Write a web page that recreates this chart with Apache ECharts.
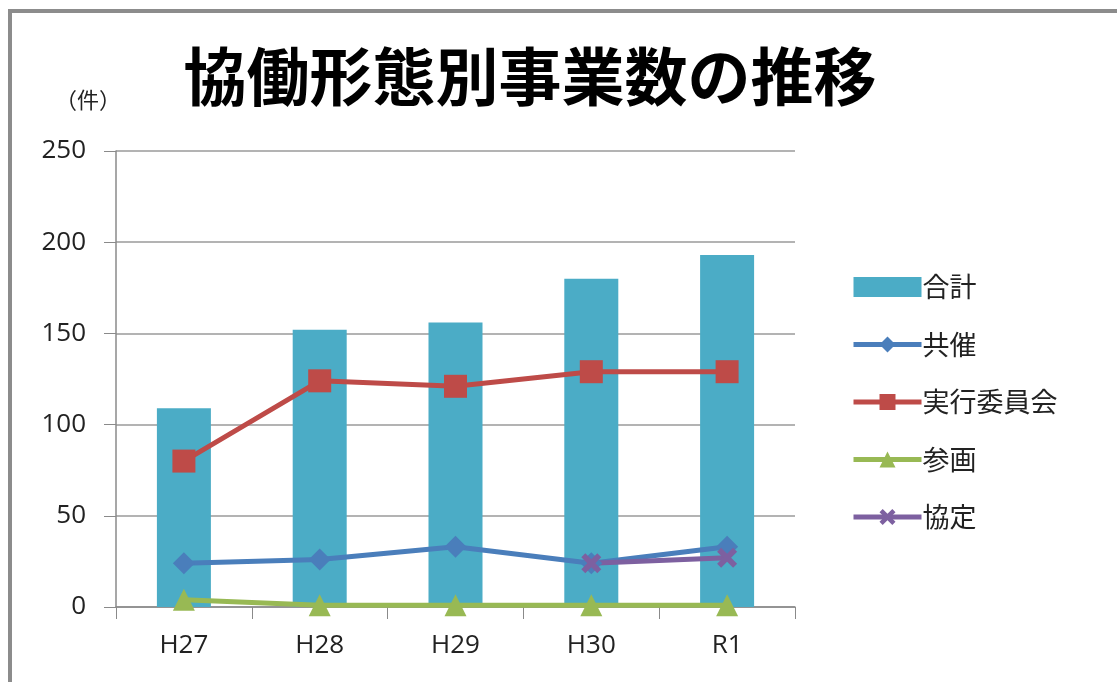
<!DOCTYPE html>
<html>
	<head>
		<meta charset="utf-8">
		<title>協働形態別事業数の推移</title>
		<script src="https://cdn.jsdelivr.net/npm/echarts@6/dist/echarts.min.js"></script>
	</head>
	<body style="margin:0;padding:0">
		<div id="chart" style="width:1117px;height:682px;"></div>
	</body>
	<script type="text/javascript">
var years = ['H27', 'H28', 'H29', 'H30', 'R1'];
var goukei = [109, 152, 156, 180, 193];
var kyousai = [24, 26, 33, 24, 33];
var jikkou = [80, 124, 121, 129, 129];
var sankaku = [4, 1, 1, 1, 1];
var kyoutei = [null, null, null, 24, 27];
var yTicks = [0, 50, 100, 150, 200, 250];

var font = '"Noto Sans CJK JP", "Noto Sans", sans-serif';
var numFont = '"Open Sans", "Noto Sans", sans-serif';
var xSymbol = 'path://M0,2 L2,0 L5,3 L8,0 L10,2 L7,5 L10,8 L8,10 L5,7 L2,10 L0,8 L3,5 Z';

var myChart = echarts.init(document.getElementById('chart'));

function lineSeries(name, data, color, symbol, size) {
    return {
        name: name,
        type: 'line',
        data: data,
        symbol: symbol,
        symbolSize: size,
        showAllSymbol: true,
        lineStyle: { color: color, width: 5 },
        itemStyle: { color: color }
    };
}

var option = {
    backgroundColor: '#fff',
    textStyle: { fontFamily: font },
    animation: false,
    title: {
        text: '協働形態別事業数の推移',
        left: 525,
        top: 40,
        textAlign: 'center',
        textStyle: { fontSize: 63, fontWeight: 'bold', color: '#000', fontFamily: font }
    },
    graphic: [
        { type: 'rect', shape: { x: 8, y: 9, width: 1120, height: 4 }, style: { fill: '#8c8c8c' } },
        { type: 'rect', shape: { x: 8, y: 9, width: 4, height: 680 }, style: { fill: '#8c8c8c' } },
        { type: 'text', left: 55, top: 89, style: { text: '（件）', fontSize: 22, fontFamily: font, fill: '#222' } }
    ],
    legend: {
        orient: 'vertical',
        left: 846,
        top: 268,
        itemWidth: 68,
        itemHeight: 20,
        itemGap: 29.5,
        lineStyle: { width: 5 },
        textStyle: { fontSize: 27, lineHeight: 28, color: '#222', padding: [0, 0, 0, -4] },
        data: [
            { name: '合計', icon: 'rect' },
            '共催', '実行委員会', '参画', '協定'
        ]
    },
    grid: { left: 116, right: 322, top: 151, bottom: 75 },
    xAxis: {
        type: 'category',
        data: years,
        axisLine: { lineStyle: { color: '#8a8a8a', width: 1.5 } },
        axisTick: { show: true, length: 12, lineStyle: { color: '#8a8a8a' } },
        axisLabel: { fontSize: 26, color: '#222', margin: 26, fontFamily: numFont }
    },
    yAxis: {
        type: 'value',
        min: yTicks[0],
        max: yTicks[yTicks.length - 1],
        interval: 50,
        axisLine: { show: true, lineStyle: { color: '#8a8a8a', width: 1.5 } },
        axisTick: { show: true, length: 12, lineStyle: { color: '#8a8a8a' } },
        splitLine: { lineStyle: { color: '#9a9a9a', width: 1.5 } },
        axisLabel: { fontSize: 26, color: '#222', margin: 30, fontFamily: numFont }
    },
    series: [
        {
            name: '合計',
            type: 'bar',
            data: goukei,
            barWidth: 54,
            itemStyle: { color: '#4BACC6' }
        },
        lineSeries('共催', kyousai, '#4A7EBB', 'diamond', 22),
        lineSeries('実行委員会', jikkou, '#BE4B48', 'rect', 23),
        lineSeries('参画', sankaku, '#98B954', 'triangle', 22),
        lineSeries('協定', kyoutei, '#7D60A0', xSymbol, 20)
    ]
};

myChart.setOption(option);
	</script>
</html>
